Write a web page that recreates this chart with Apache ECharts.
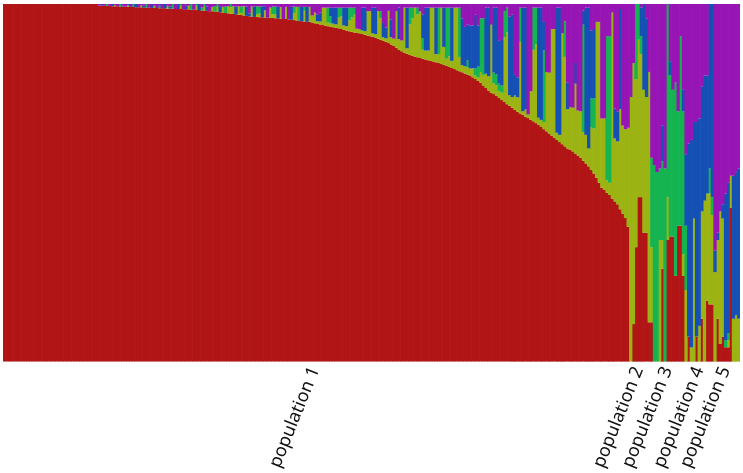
<!DOCTYPE html>
<html><head><meta charset="utf-8">
<script src="https://cdn.jsdelivr.net/npm/echarts@6/dist/echarts.min.js"></script>
<style>html,body{margin:0;padding:0;background:#fff}#c{width:743px;height:473px}</style>
</head><body><div id="c"></div>
<script>
const popNames = ['population 1', 'population 2', 'population 3', 'population 4', 'population 5'];
const popSizes = [238, 8, 14, 10, 10];
const clusterNames = ['K1', 'K2', 'K3', 'K4', 'K5'];

const red = [
100,100,100,100,100,100,100,100,100,100,
100,100,100,100,100,100,100,100,100,100,
100,100,100,100,100,100,100,100,100,100,
100,100,100,100,100,100,99.6,99.6,99.5,99.5,
99.5,99.4,99.4,99.4,99.3,99.3,99.3,99.2,99.2,99.2,
99.1,99.1,99.1,99.0,99.0,99.0,98.9,98.9,98.9,98.8,
98.8,98.8,98.7,98.7,98.7,98.6,98.6,98.6,98.5,98.5,
98.5,98.4,98.4,98.3,98.3,98.2,98.2,98.1,98.0,98.0,
97.9,97.8,97.7,97.6,97.5,97.4,97.3,97.2,97.1,97.0,
96.9,96.8,96.7,96.6,96.5,96.4,96.4,96.3,96.3,96.2,
96.2,96.1,96.1,96.0,96.0,95.9,95.8,95.8,95.7,95.6,
95.5,95.4,95.3,95.2,95.1,95.0,95.0,94.8,94.6,94.4,
94.3,94.1,93.9,93.8,93.6,93.5,93.3,93.2,93.0,92.8,
92.6,92.4,92.2,92.0,91.9,91.8,91.6,91.4,91.2,91.0,
90.8,90.6,90.3,90.0,89.7,89.4,89.1,88.7,88.3,87.8,
87.2,86.8,86.4,86.1,85.8,85.5,85.3,85.1,84.9,84.7,
84.5,84.3,84.1,83.9,83.7,83.5,83.2,83.0,82.7,82.4,
82.1,81.8,81.5,81.2,80.9,80.6,80.3,80.0,79.5,79.0,
78.5,78.0,77.2,76.5,75.8,75.2,74.8,74.3,73.7,73.2,
72.6,72.0,71.5,71.0,70.4,69.9,69.4,69.0,68.5,68.1,
67.6,67.2,66.7,66.2,65.6,65.0,64.4,63.8,63.2,62.6,
62.0,61.4,60.8,60.2,59.6,59.2,58.8,58.2,57.6,57.0,
56.2,55.4,54.6,53.6,52.6,51.4,50.0,48.6,48.0,47.2,
46.6,45.6,44.8,44.0,42.6,41.4,40.2,37.7,0,10.5,
32,46,46,36,36,11,11,0,0,0,
26,0,34,35,35,24,38,38,24,0,
7,0,0,7,0,12,0,17,16,16,
0,12,5,7,4,4,43,0,0,0
];

const olive = [
0,0,0,0,0,0,0,0,0,0,
0,0,0,0,0,0,0,0,0,0,
0,0,0,0,0,0,0,0,0,0,
0,0,0,0,0,0,0,0,0,0,
0,0,0.3,0,0,0,0,0.4,0,0,
0,0,0.5,0,0,0,0,0.6,0,0,
0,0,0.8,0,0,0,0,0.9,0,0,
1.0,0,0,1.2,0,0,1.0,0,0,1.2,
0,1.4,0,1.6,0,2.0,1.8,2.2,0,2.4,
0.6,2.6,0,0,2.8,0,0.8,1.0,0,2.0,
0,2.9,1.0,1.2,0,3.2,0,3.4,0,0,
2.0,3.8,0,0,3.0,0,4.2,2.0,3.0,0.8,
0.8,4.9,5.1,1.0,1.0,1.0,1.0,3.0,3.5,1.2,
1.2,3.0,4.0,5.0,1.2,1.2,1.0,1.0,6.8,7.0,
1.0,1.0,7.7,6.0,1.0,1.0,9.0,2.0,2.0,10.2,
3.0,3.0,12.6,1.5,8.5,10.5,13.7,12.0,13.0,2.5,
2.5,2.7,14.9,15.1,2.3,2.5,15.8,5.0,2.0,3.0,
2.0,17.2,17.5,4.0,2.0,2.0,2.0,2.0,2.5,1.0,
1.0,3.0,3.0,4.0,4.0,19.0,3.0,3.0,2.0,2.0,
18.0,20.0,3.0,3.0,4.0,4.0,20.0,1.0,2.0,1.0,
8.0,20.0,22.0,2.0,2.0,2.0,16.6,17.0,29.8,30.4,
2.0,2.0,31.0,25.0,11.0,12.0,12.2,19.5,12.6,13.0,
8.0,8.0,5.0,12.0,12.6,43.6,45.0,19.4,20.0,3.5,
3.4,52.0,17.6,17.6,28.0,24.6,24.8,27.7,74,73,
47,44,40,40,38,70,21,0,0,34,
8,0,12,0,0,0,0,0,6,20,
0,4,40,0,10,30,45,30,31,25,
25,22,37,33,0,2,9,12,13,12
];

const green = [
0,0,0,0,0,0,0,0,0,0,
0,0,0,0,0,0,0,0,0,0,
0,0,0,0,0,0,0,0,0,0,
0,0,0,0,0,0,0,0,0,0.5,
0,0,0,0,0.7,0,0,0,0,0.8,
0,0,0,0,1.0,0,0,0,0,0.7,
0,0,0,0,1.3,0,0,0.5,0,0,
0,1.6,0,0.5,0,0.8,0.8,0,0,0,
1.5,0.8,0,0,1.8,0,0.9,0,0,0,
1.8,0,0,0,0,0,2.2,2.0,0,0,
0,0,2.2,2.1,0,0,0,0,0,0,
1.8,0,3.9,0,1.1,0,0,0,0,0,
0,0,0,4.2,2.0,0,0,2.8,2.5,0,
0,3.6,2.8,2.0,0,0,0,0,0,0,
0,0,0,2.0,0,0,0,0,0,0,
0,0,0,0,4.7,3.0,0,1.9,0,3.3,
0,0,0,0,0,13.0,0,0,14.3,13.6,
0,0,0,13.8,0,0,2.0,0,0,2.0,
3.0,15.0,15.8,0,0,0,3.0,3.0,2.0,2.0,
7.4,7.0,0,0,0,0,9.6,0,0,0,
0,11.8,10.3,0,0,20.0,0,0,0,0,
0,0,0,10.0,0,0,0,0,0,0,
30.0,0,0,8.0,8.4,0,0,0,0,40.3,
41.0,0,0,0,0,0,0,0,0,0,
21,10,5,0,0,0,25,55,53,20,
22,54,54,45,41,54,32,53,40,18,
0,0,0,0,0,0,0,0,7,5,
0,0,0,0,2,2,0,0,0,0
];

const blue = [
0,0,0,0,0,0,0,0,0,0,
0,0,0,0,0,0,0,0,0,0,
0,0,0,0,0,0,0,0,0,0,
0,0,0,0,0,0,0,0.4,0,0,
0,0.6,0,0,0,0.3,0,0.4,0,0,
0.9,0,0,0.5,0,0,1.1,0,0,0.5,
0,1.2,0,0.6,0,0,1.4,0,0,1.0,
0,0,0,0,1.7,0,0,1.2,0,0,
0,0,1.5,0,0,0,0,0,2.2,0,
0,0,2.6,0.8,0,2.9,0,0,3.0,1.2,
0,0,0,0,3.2,0,0,0,0,3.6,
0,0,0,4.0,0,4.2,0,0,0,1.8,
2.5,0,0,0,2.4,4.5,4.7,0,0,5.0,
5.2,0,0,0,0,0,6.4,6.6,0,0,
7.2,7.4,0,0,4.0,3.0,0,5.0,0,0,
8.8,0,0,11.4,0,0,0,0,0,6.5,
12.0,12.0,0,0,13.0,0,0,11.0,0,0,
14.9,0,0,0,13.0,11.0,10.0,12.0,12.0,15.0,
11.5,0,0,18.5,19.2,0,18.2,18.7,12.0,13.0,
0,0,22.0,23.0,6.0,5.6,0,29.0,28.5,0,
0,0,0,30.8,31.4,8.0,0,0,0,0,
35.0,35.6,0,0,7.5,0,0,5.8,0,0,
4.0,35.6,39.4,19.0,19.4,0,0,0,0,0,
0,0,8.4,8.4,28.0,0,0,0,0,0,
0,0,8,24,22,0,0,0,0,0,
10,0,0,4,0,0,0,0,6,20,
54,58,27,60,58,35,35,33,46,54,
6,2,0,4,41,42,0,40,40,42
];

const purple = [
0,0,0,0,0,0,0,0,0,0,
0,0,0,0,0,0,0,0,0,0,
0,0,0,0,0,0,0,0,0,0,
0,0,0,0,0,0,0.4,0,0.5,0,
0.5,0,0.3,0.6,0,0.4,0.7,0,0.8,0,
0,0.9,0.4,0.5,0,1.0,0,0.5,1.1,0,
1.2,0,0.5,0.7,0,1.4,0,0,1.5,0.5,
0.5,0,1.6,0,0,1.0,0,0.7,2.0,0.8,
0.6,0,0.8,0.8,0.7,0.6,0,0.6,0.7,0.6,
0.7,0.6,0.7,2.6,0.7,0.7,0.6,0.7,0.7,0.6,
3.8,1.0,0.7,0.7,0.8,0.9,4.2,0.8,4.3,0.8,
0.7,0.8,0.8,0.8,0.8,0.8,0.8,3.2,2.4,3.0,
2.4,1.0,1.0,1.0,1.0,1.0,1.0,1.0,1.0,1.0,
1.0,1.0,1.0,1.0,6.9,7.0,1.0,1.0,2.0,2.0,
1.0,1.0,2.0,2.0,5.3,6.6,1.9,4.3,9.7,2.0,
1.0,10.2,1.0,1.0,1.0,1.0,1.0,1.0,2.1,3.0,
1.0,1.0,1.0,1.0,1.0,1.0,1.0,1.0,1.0,1.0,
1.0,1.0,1.0,1.0,4.1,6.4,5.7,6.0,6.0,3.0,
6.0,4.0,4.0,1.0,1.0,5.8,1.0,1.0,10.3,9.8,
2.0,1.0,3.5,3.0,19.6,20.5,1.0,1.0,1.0,30.9,
24.4,1.0,1.0,1.0,1.0,5.0,19.0,19.2,7.0,7.0,
1.0,1.0,8.2,4.8,21.9,28.8,29.0,16.5,29.8,30.0,
1.8,1.0,1.0,7.4,7.0,5.0,5.0,32.0,32.0,9.0,
9.0,2.4,29.2,30.0,1.4,34.0,35.0,34.6,26,16.5,
0,0,1,0,4,19,43,45,47,46,
34,46,0,16,24,22,30,9,24,42,
39,38,33,33,32,23,20,20,0,0,
69,64,58,56,53,50,48,48,47,46
];

const clusterColors = ['#b11515', '#9bb414', '#15b451', '#1551b4', '#9615b4'];

const individuals = red.map((_, i) => 'ind' + (i + 1));
const labelAt = {};
let start = 0;
popNames.forEach((name, k) => {
  labelAt[start + Math.floor((popSizes[k] - 1) / 2)] = name;
  start += popSizes[k];
});

const chart = echarts.init(document.getElementById('c'), null, {renderer: 'canvas'});
chart.setOption({
  animation: false,
  backgroundColor: '#ffffff',
  grid: {left: 3, right: 3, top: 4, bottom: 111, containLabel: false},
  xAxis: {
    type: 'category',
    data: individuals,
    axisLine: {show: false},
    axisTick: {show: false},
    splitLine: {show: false},
    axisLabel: {
      interval: 0,
      rotate: 68,
      margin: 6,
      fontSize: 18,
      fontFamily: 'Noto Sans',
      color: '#111111',
      formatter: (v, idx) => labelAt[idx] || ''
    }
  },
  yAxis: {type: 'value', min: 0, max: 100, show: false},
  series: [red, olive, green, blue, purple].map((d, k) => ({
    name: clusterNames[k],
    type: 'bar',
    stack: 'q',
    data: d,
    barWidth: 3.3,
    barGap: '0%',
    silent: true,
    itemStyle: {color: clusterColors[k]}
  }))
});
</script>
</body></html>
